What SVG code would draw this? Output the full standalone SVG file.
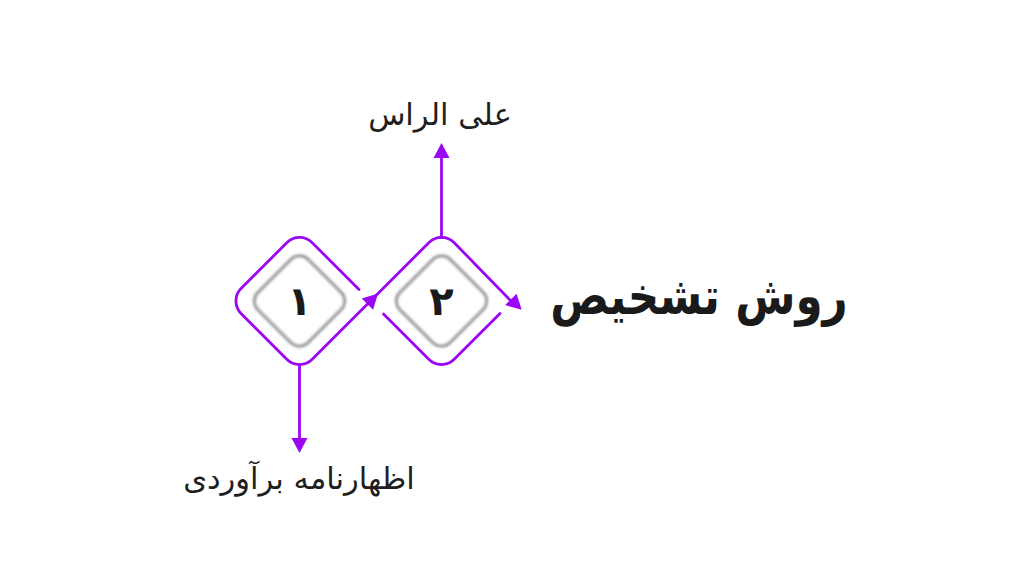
<svg xmlns="http://www.w3.org/2000/svg" width="1024" height="576" viewBox="0 0 1024 576">
  <style>
    .flow { fill: none; stroke: #9b07f3; stroke-width: 2.8; stroke-linecap: round; stroke-linejoin: round; }
    .head { fill: #9b07f3; stroke: none; }
    .inner { fill: #ffffff; stroke: #a2a2a2; stroke-width: 3.5; }
    .digit { font-family: "DejaVu Sans", sans-serif; font-weight: bold; font-size: 40px; fill: #1a1a1a; text-anchor: middle; }
    .label { font-family: "DejaVu Sans", sans-serif; font-size: 30.5px; fill: #1e1e1e; text-anchor: middle; }
    .title { font-family: "DejaVu Sans", sans-serif; font-weight: bold; font-size: 52px; fill: #1a1a1a; text-anchor: middle; }
  </style>
  <defs>
    <filter id="soft" x="-20%" y="-20%" width="140%" height="140%">
      <feGaussianBlur stdDeviation="1"/>
    </filter>
  </defs>
  <rect width="1024" height="576" fill="#ffffff"/>

  <g id="node-1">
    <rect class="inner" x="-35.4" y="-35.4" width="70.8" height="70.8" rx="12" transform="translate(299.5 301) rotate(45)" filter="url(#soft)"/>
    <text class="digit" x="299.5" y="315">۱</text>
  </g>

  <g id="node-2">
    <rect class="inner" x="-35.4" y="-35.4" width="70.8" height="70.8" rx="12" transform="translate(441.5 301) rotate(45)" filter="url(#soft)"/>
    <text class="digit" x="441.5" y="315">۲</text>
  </g>

  <g id="connectors">
    <path class="flow" d="M 359 289.5 L 312.23 242.73 A 18 18 0 0 0 286.77 242.73 L 241.23 288.27 A 18 18 0 0 0 241.23 313.73 L 286.77 359.27 A 18 18 0 0 0 312.23 359.27 L 428.77 242.73 A 18 18 0 0 1 454.23 242.73 L 512 302"/>
    <path class="flow" d="M 383.5 314 L 428.77 359.27 A 18 18 0 0 0 454.23 359.27 L 500 313.5"/>
    <path class="flow" d="M 299.5 364.5 L 299.5 440"/>
    <path class="flow" d="M 441.5 237.5 L 441.5 156"/>
    <polygon class="head" points="378,293.5 373.1,309.8 361.7,298.4"/>
    <polygon class="head" points="521.7,309.8 516.6,293.7 505.2,305.1"/>
    <polygon class="head" points="299.5,453 291.5,438 307.5,438"/>
    <polygon class="head" points="441.5,143 433.5,158 449.5,158"/>
  </g>

  <g id="labels">
    <text class="label" x="440" y="125">علی الراس</text>
    <text class="label" x="299" y="489">اظهارنامه برآوردی</text>
    <text class="title" transform="translate(699 314) scale(0.84 1)">روش تشخیص</text>
  </g>
</svg>
